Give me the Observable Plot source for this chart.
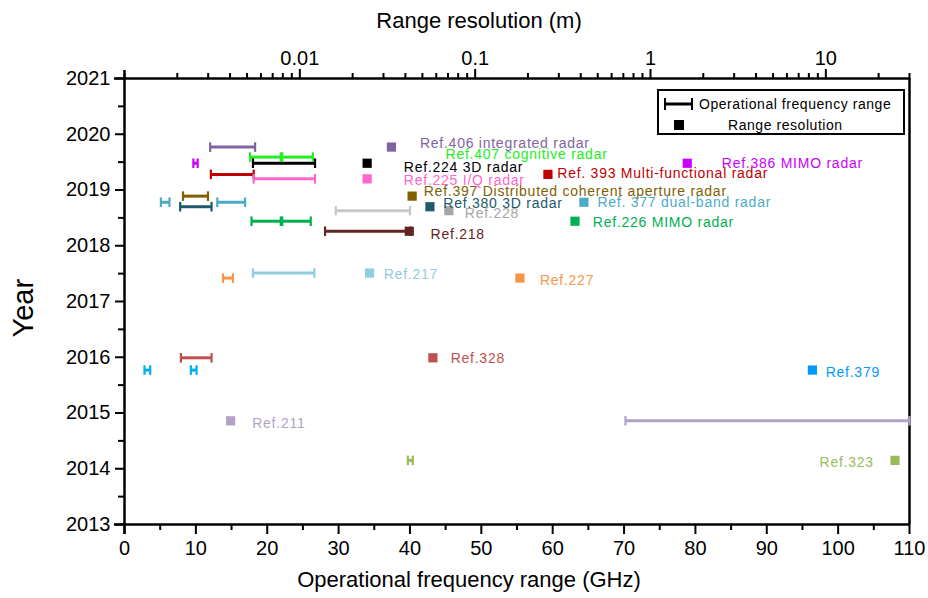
<!DOCTYPE html>
<html><head><meta charset="utf-8">
<script src="https://cdn.jsdelivr.net/npm/d3@7"></script>
<script src="https://cdn.jsdelivr.net/npm/@observablehq/plot@0.6"></script>
<style>
body{margin:0;background:#fff;}
#wrap{position:relative;width:928px;height:598px;font-family:"Liberation Sans",Arial,sans-serif;}
#wrap > svg{position:absolute;left:0;top:0;}
.legend{position:absolute;left:657px;top:89px;width:244px;height:42px;border:2px solid #000;background:#fff;font-size:14px;letter-spacing:0.55px;color:#000;}
.legend .row{position:absolute;white-space:nowrap;}
</style></head><body><div id="wrap"></div>
<script>
// ---- data ----
const refLabels = ["Ref.406 integrated radar","Ref.407 cognitive radar","Ref.224 3D radar","Ref.386 MIMO radar","Ref. 393 Multi-functional radar","Ref.225 I/Q radar","Ref.397 Distributed coherent aperture radar","Ref. 377 dual-band radar","Ref.380 3D radar","Ref.228","Ref.226 MIMO radar","Ref.218","Ref.217","Ref.227","Ref.328","Ref.379","Ref.211","Ref.323"];
const refYears = [2019.77,2019.59,2019.48,2019.48,2019.28,2019.20,2018.89,2018.78,2018.70,2018.63,2018.44,2018.26,2017.51,2017.42,2015.99,2015.77,2014.86,2014.15];
const refResolution = [0.0333,null,0.0242,1.62,0.26,0.0242,0.0437,0.417,0.0552,0.0708,0.371,0.0421,0.025,0.18,0.0574,8.38,0.00403,24.8];
const refColors = ["#8064a2","#22ee22","#000000","#cc00ff","#c00000","#ff66cc","#7f6000","#4bacc6","#215968","#a6a6a6","#00b050","#632523","#92cddc","#f79646","#c0504d","#0099ff","#b3a2c7","#9bbb59"];
const barColors = ["#8064a2","#22ee22","#000000","#cc00ff","#c00000","#ff66cc","#7f6000","#4bacc6","#215968","#c8c8c8","#00b050","#632523","#92cddc","#f79646","#c0504d","#00b0f0","#b3a2c7","#9bbb59"];
// frequency segments (GHz): index into refs, start, end
const segRef   = [0,1,1,2,3,4,5,6,7,7,8,9,10,10,11,12,13,14,15,15,16,17];
const segStart = [12.0,17.6,22.1,18.0,9.65,12.1,18.1,8.2,5.1,13.0,7.8,29.6,17.8,22.1,28.1,18.0,13.8,7.9,2.8,9.3,70.2,39.7];
const segEnd   = [18.3,21.9,26.4,26.7,10.25,18.1,26.7,11.7,6.3,16.9,12.2,40.0,21.9,26.1,40.1,26.6,15.2,12.2,3.6,10.1,110,40.4];
// label anchors (resolution m, year) for annotations
const labelRes  = [0.0484,0.0678,0.0392,2.55,0.294,0.0392,0.0509,0.498,0.0658,0.0873,0.469,0.0557,0.0301,0.234,0.0725,9.98,0.00535,18.8];
const labelYear = [2019.83,2019.63,2019.41,2019.48,2019.29,2019.17,2018.97,2018.78,2018.76,2018.58,2018.41,2018.21,2017.48,2017.38,2015.97,2015.72,2014.82,2014.12];
const labelEnd  = [false,false,false,false,false,false,false,false,false,false,false,false,false,false,false,false,false,true];
// axes
const freqTicks = [0,10,20,30,40,50,60,70,80,90,100,110];
const freqMinorTicks = [5,15,25,35,45,55,65,75,85,95,105];
const yearTicks = [2013,2014,2015,2016,2017,2018,2019,2020,2021];
const yearMinorTicks = [2013.5,2014.5,2015.5,2016.5,2017.5,2018.5,2019.5,2020.5];
const resTicks = [0.01,0.1,1,10];
const resTickLabels = ["0.01","0.1","1","10"];
const xTitle = "Operational frequency range (GHz)";
const x2Title = "Range resolution (m)";
const yTitle = "Year";

// ---- build ----
const W = 928, H = 598;
const margins = {marginTop:78, marginRight:19, marginBottom:74, marginLeft:124};
const sans = "'Liberation Sans',Arial,sans-serif";
const resMinorTicks = [];
for (let e = -3; e <= 1; e++) for (let m = 1; m <= 9; m++) { const v = +(m * Math.pow(10, e)).toPrecision(6); if (v <= 30 && !resTicks.includes(v)) resMinorTicks.push(v); }

const segs = segRef.map((r, i) => ({f1: segStart[i], f2: segEnd[i], year: refYears[r], color: barColors[r]}));
const caps = segs.flatMap(s => [{f: s.f1, year: s.year, color: s.color}, {f: s.f2, year: s.year, color: s.color}]);
const points = refLabels.map((label, i) => ({label, year: refYears[i], res: refResolution[i], color: refColors[i], lx: labelRes[i], ly: labelYear[i], end: labelEnd[i]}));
const capSymbol = {draw(ctx, size) { const h = Math.sqrt(size); ctx.moveTo(0, -h / 2); ctx.lineTo(0, h / 2); }};

const plotA = Plot.plot({
  width: W, height: H, ...margins,
  style: {background: "transparent", fontFamily: sans, color: "#000"},
  x: {domain: [0, 110]},
  y: {domain: [2013, 2021]},
  color: {type: "identity"},
  marks: [
    Plot.axisX({ticks: freqMinorTicks, tickSize: 6, strokeWidth: 2, tickFormat: () => "", label: null}),
    Plot.axisX({ticks: freqTicks, tickSize: 10, strokeWidth: 2, tickPadding: 6, tickFormat: d => String(d), fontSize: 20, fontFamily: sans, label: null}),
    Plot.axisY({ticks: yearMinorTicks, tickSize: 6, strokeWidth: 2, tickFormat: () => "", label: null}),
    Plot.axisY({ticks: yearTicks, tickSize: 9, strokeWidth: 2, tickPadding: 5, tickFormat: d => String(d), fontSize: 20, fontFamily: sans, label: null}),
    Plot.ruleY([2013], {strokeWidth: 2.5, insetLeft: -10}),
    Plot.ruleX([0], {strokeWidth: 2.5, insetTop: -8, insetBottom: -10}),
    Plot.ruleX([110], {strokeWidth: 2.5}),
    Plot.link(segs, {x1: "f1", x2: "f2", y1: "year", y2: "year", stroke: "color", strokeWidth: 3}),
    Plot.dot(caps, {x: "f", y: "year", symbol: capSymbol, r: 5.4, stroke: "color", strokeWidth: 2.2, fill: "none"}),
    Plot.text([xTitle], {frameAnchor: "bottom", dy: 62, dx: -48, fontSize: 22, fontFamily: sans}),
    Plot.text([yTitle], {frameAnchor: "left", rotate: -90, dx: -101, dy: 36, fontSize: 29, fontFamily: sans})
  ]
});

const plotB = Plot.plot({
  width: W, height: H, ...margins,
  style: {background: "transparent", fontFamily: sans, color: "#000"},
  x: {type: "log", domain: [0.001, 30]},
  y: {domain: [2013, 2021], axis: null},
  color: {type: "identity"},
  marks: [
    Plot.axisX({anchor: "top", ticks: resMinorTicks, tickSize: 6, strokeWidth: 2, tickFormat: () => "", label: null}),
    Plot.axisX({anchor: "top", ticks: resTicks, tickSize: 10, strokeWidth: 2, tickPadding: 4, tickFormat: d => resTickLabels[resTicks.indexOf(d)], fontSize: 20, fontFamily: sans, label: null}),
    Plot.ruleY([2021], {strokeWidth: 2.5, insetLeft: -10}),
    Plot.dot(points.filter(d => d.res != null), {x: "res", y: "year", symbol: "square", r: 5.2, fill: "color"}),
    Plot.text(points.filter(d => !d.end), {x: "lx", y: "ly", text: "label", fill: "color", textAnchor: "start", fontSize: 14, fontFamily: sans}),
    Plot.text(points.filter(d => d.end), {x: "lx", y: "ly", text: "label", fill: "color", textAnchor: "end", fontSize: 14, fontFamily: sans}),
    Plot.text([x2Title], {frameAnchor: "top", dy: -66, dx: -38, fontSize: 22, fontFamily: sans})
  ]
});

// annotation labels are slightly letter-spaced in the reference
d3.select(plotB).selectAll("text").filter(function () { return refLabels.includes(this.textContent); }).style("letter-spacing", "0.75px");

const wrap = document.getElementById("wrap");
wrap.appendChild(plotA);
wrap.appendChild(plotB);

const legend = document.createElement("div");
legend.className = "legend";
legend.innerHTML = `
 <div class="row" style="left:4px;top:4px;"><svg width="30" height="14" style="vertical-align:middle"><line x1="2" x2="29" y1="7" y2="7" stroke="#000" stroke-width="3"/><line x1="2" x2="2" y1="1" y2="13" stroke="#000" stroke-width="2"/><line x1="29" x2="29" y1="1" y2="13" stroke="#000" stroke-width="2"/></svg><span style="margin-left:6px;vertical-align:middle">Operational frequency range</span></div>
 <div class="row" style="left:14px;top:25px;"><svg width="12" height="12" style="vertical-align:middle"><rect x="1" y="1" width="10" height="10" fill="#000"/></svg><span style="margin-left:43px;vertical-align:middle">Range resolution</span></div>`;
wrap.appendChild(legend);
</script></body></html>
